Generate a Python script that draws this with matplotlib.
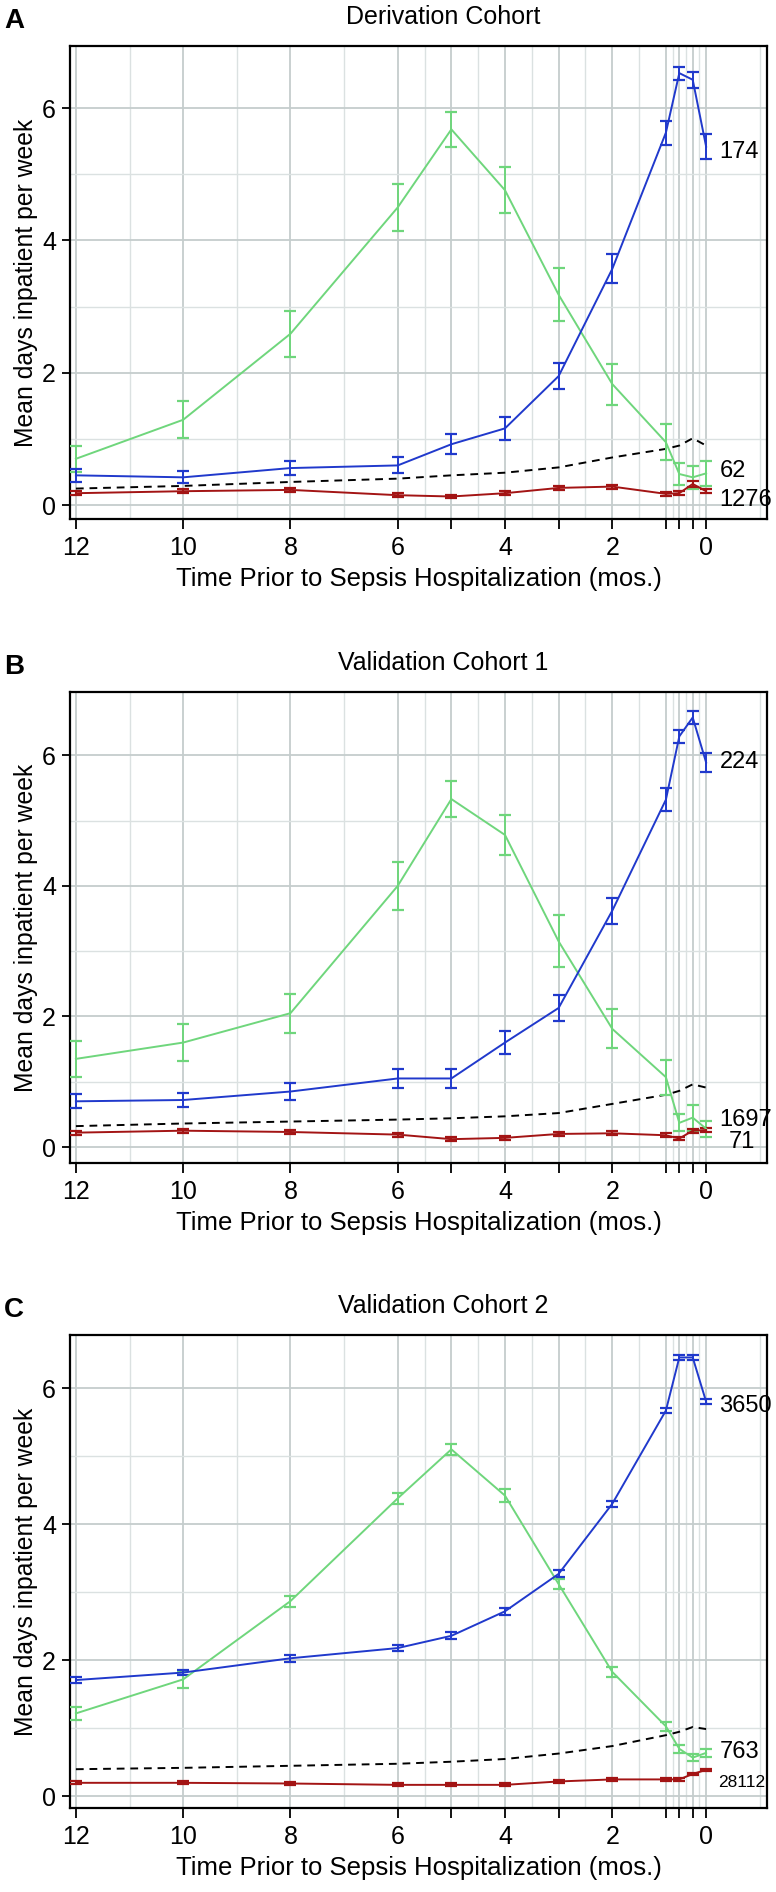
#!/usr/bin/env python3
"""
plot.py

Mean days inpatient per week before sepsis hospitalization,
derivation cohort and two validation cohorts.
"""

import numpy as np
import matplotlib
matplotlib.use("Agg")
import matplotlib.pyplot as plt


# ==========================================================
# Data
# ==========================================================

MONTHS = [12, 10, 8, 6, 5, 4, 3, 2, 1, 0.75, 0.5, 0.25]

TICK_POS = [12, 10, 8, 6, 5, 4, 3, 2, 1, 0.75, 0.5, 0.25]
TICK_LABELS = ["12", "10", "8", "6", "", "4", "", "2", "", "", "", "0"]

MINOR_POS = [11, 9, 7, 5.5, 4.5, 3.5, 2.5, 1.5, 0.875, 0.625, 0.375, -0.75]

TITLES = ["Derivation Cohort", "Validation Cohort 1", "Validation Cohort 2"]
LETTERS = ["A", "B", "C"]

# --- Panel A ---
A_GREEN = [0.70, 1.29, 2.59, 4.50, 5.68, 4.76, 3.18, 1.83, 0.95, 0.47, 0.42, 0.48]
A_GREEN_ERR = [0.20, 0.28, 0.35, 0.36, 0.26, 0.35, 0.40, 0.31, 0.27, 0.17, 0.17, 0.19]
A_BLUE = [0.45, 0.42, 0.56, 0.60, 0.92, 1.16, 1.95, 3.57, 5.63, 6.53, 6.43, 5.42]
A_BLUE_ERR = [0.10, 0.09, 0.11, 0.12, 0.15, 0.17, 0.20, 0.22, 0.18, 0.10, 0.12, 0.19]
A_RED = [0.18, 0.21, 0.23, 0.15, 0.13, 0.18, 0.26, 0.28, 0.17, 0.18, 0.32, 0.21]
A_RED_ERR = [0.03, 0.03, 0.03, 0.03, 0.03, 0.03, 0.03, 0.03, 0.03, 0.03, 0.04, 0.03]
A_REF = [0.25, 0.29, 0.35, 0.40, 0.45, 0.49, 0.57, 0.72, 0.85, 0.90, 1.01, 0.90]
A_NOTES = [("174", 5.34), ("62", 0.52), ("1276", 0.07)]

# --- Panel B ---
B_GREEN = [1.35, 1.60, 2.05, 4.00, 5.33, 4.78, 3.15, 1.81, 1.07, 0.37, 0.45, 0.28]
B_GREEN_ERR = [0.28, 0.28, 0.30, 0.37, 0.27, 0.30, 0.40, 0.30, 0.27, 0.13, 0.20, 0.12]
B_BLUE = [0.70, 0.72, 0.85, 1.05, 1.05, 1.60, 2.13, 3.62, 5.32, 6.29, 6.58, 5.89]
B_BLUE_ERR = [0.11, 0.11, 0.13, 0.14, 0.15, 0.18, 0.20, 0.20, 0.18, 0.10, 0.10, 0.15]
B_RED = [0.22, 0.25, 0.23, 0.19, 0.12, 0.14, 0.20, 0.21, 0.18, 0.13, 0.25, 0.26]
B_RED_ERR = [0.03, 0.03, 0.03, 0.03, 0.03, 0.03, 0.03, 0.03, 0.03, 0.03, 0.03, 0.03]
B_REF = [0.32, 0.36, 0.39, 0.42, 0.44, 0.47, 0.52, 0.66, 0.80, 0.86, 0.96, 0.91]
B_NOTES = [("224", 5.90), ("1697", 0.42), ("71", 0.08)]

# --- Panel C ---
C_GREEN = [1.22, 1.72, 2.87, 4.38, 5.10, 4.42, 3.12, 1.83, 1.03, 0.70, 0.57, 0.64]
C_GREEN_ERR = [0.09, 0.12, 0.08, 0.08, 0.08, 0.10, 0.07, 0.07, 0.07, 0.06, 0.05, 0.06]
C_BLUE = [1.71, 1.82, 2.03, 2.18, 2.36, 2.72, 3.27, 4.30, 5.67, 6.45, 6.45, 5.80]
C_BLUE_ERR = [0.04, 0.04, 0.05, 0.05, 0.05, 0.05, 0.05, 0.04, 0.04, 0.03, 0.03, 0.04]
C_RED = [0.20, 0.20, 0.19, 0.17, 0.17, 0.17, 0.22, 0.25, 0.25, 0.25, 0.33, 0.39]
C_RED_ERR = [0.02, 0.02, 0.02, 0.02, 0.02, 0.02, 0.02, 0.02, 0.02, 0.02, 0.02, 0.02]
C_REF = [0.40, 0.42, 0.45, 0.48, 0.51, 0.55, 0.63, 0.74, 0.90, 0.95, 1.02, 0.99]
C_NOTES = [("3650", 5.73), ("763", 0.66), ("28112", 0.20)]


# ==========================================================
# Style
# ==========================================================

GREEN = "#6fd67c"
BLUE = "#2039cc"
RED = "#a31414"

GRID_MAJOR = "#c5cdcd"
GRID_MINOR = "#dbe1e1"

# figure pixels: 776 x 1892, axes boxes as (top, bottom) pixel rows
FIG_W, FIG_H = 776, 1892
AX_LEFT, AX_RIGHT = 70, 767
AX_ROWS = [(46, 519), (692, 1163), (1335, 1808)]
YLIMS = [(-0.21, 6.94), (-0.245, 6.97), (-0.17, 6.78)]
XLIM = (12.11, -0.885)

plt.rcParams["font.family"] = ["Liberation Sans", "DejaVu Sans"]


def draw_panel(ax, green, green_err, blue, blue_err, red, red_err, ref,
               notes, ylim):

    # grid first
    for x in TICK_POS:
        ax.axvline(x, color=GRID_MAJOR, lw=1.3, zorder=0)
    for x in MINOR_POS:
        ax.axvline(x, color=GRID_MINOR, lw=1.0, zorder=0)
    for y in [0, 2, 4, 6]:
        ax.axhline(y, color=GRID_MAJOR, lw=1.3, zorder=0)
    for y in [1, 3, 5]:
        ax.axhline(y, color=GRID_MINOR, lw=1.0, zorder=0)

    ax.plot(MONTHS, ref, color="black", lw=1.4, ls=(0, (4, 3)), zorder=2)

    for vals, errs, col in [(green, green_err, GREEN),
                            (blue, blue_err, BLUE),
                            (red, red_err, RED)]:
        ax.errorbar(MONTHS, vals, yerr=errs, color=col, lw=1.4,
                    elinewidth=1.4, capsize=4.5, capthick=1.6, zorder=3)

    for txt, y in notes:
        size = 17
        x = 0.0
        if txt == "28112":
            size = 12.5
            x = 0.02
        if txt == "71":
            x = -0.17
        ax.text(x, y, txt, fontsize=size, ha="left", va="center", zorder=4)

    ax.set_xlim(*XLIM)
    ax.set_ylim(*ylim)

    ax.set_xticks(TICK_POS)
    ax.set_xticklabels(TICK_LABELS)
    ax.set_yticks([0, 2, 4, 6])
    ax.set_yticklabels(["0", "2", "4", "6"])

    ax.tick_params(axis="both", direction="out", length=6, width=1.3,
                   labelsize=18, pad=4)
    ax.tick_params(axis="x", length=7, pad=5)

    for sp in ax.spines.values():
        sp.set_linewidth(1.6)
        sp.set_color("black")

    ax.set_xlabel("Time Prior to Sepsis Hospitalization (mos.)",
                  fontsize=18.5, labelpad=5)
    ax.set_ylabel("Mean days inpatient per week", fontsize=17.8, labelpad=3)


def main():

    fig = plt.figure(figsize=(FIG_W / 100, FIG_H / 100), dpi=100)

    panels = [
        (A_GREEN, A_GREEN_ERR, A_BLUE, A_BLUE_ERR, A_RED, A_RED_ERR, A_REF, A_NOTES),
        (B_GREEN, B_GREEN_ERR, B_BLUE, B_BLUE_ERR, B_RED, B_RED_ERR, B_REF, B_NOTES),
        (C_GREEN, C_GREEN_ERR, C_BLUE, C_BLUE_ERR, C_RED, C_RED_ERR, C_REF, C_NOTES),
    ]

    for k, args in enumerate(panels):

        top, bottom = AX_ROWS[k]

        ax = fig.add_axes([
            AX_LEFT / FIG_W,
            1 - bottom / FIG_H,
            (AX_RIGHT - AX_LEFT) / FIG_W,
            (bottom - top) / FIG_H,
        ])

        draw_panel(ax, *args, ylim=YLIMS[k])

        title_y = 1 - (top - 29) / FIG_H
        fig.text(443 / FIG_W, title_y, TITLES[k], fontsize=18,
                 ha="center", va="center")
        fig.text(4 / FIG_W, title_y - 4 / FIG_H, LETTERS[k], fontsize=20,
                 fontweight="bold", ha="left", va="center")

    fig.savefig("out.png", dpi=100)


if __name__ == "__main__":
    main()
